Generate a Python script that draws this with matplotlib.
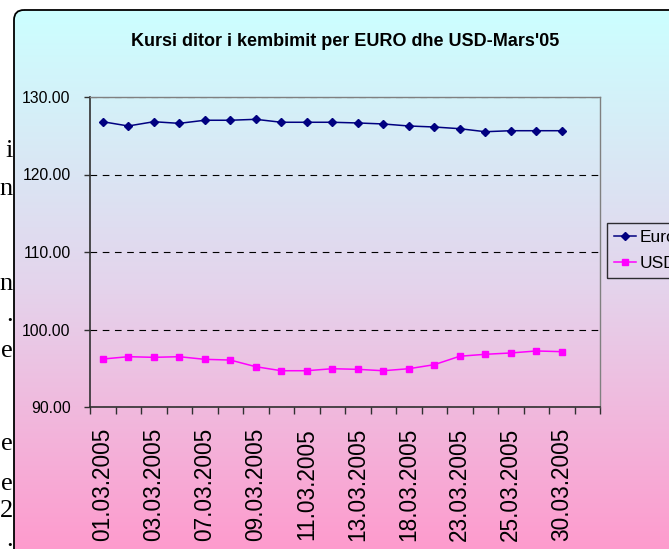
import numpy as np
import matplotlib
matplotlib.use("Agg")
import matplotlib.pyplot as plt
from matplotlib.patches import FancyBboxPatch
from matplotlib.colors import LinearSegmentedColormap
from matplotlib.ticker import FormatStrFormatter

# Categories (20 slots on the axis, last one empty)
dates = ["01.03.2005", "02.03.2005", "03.03.2005", "04.03.2005", "07.03.2005",
         "08.03.2005", "09.03.2005", "10.03.2005", "11.03.2005", "12.03.2005",
         "13.03.2005", "16.03.2005", "18.03.2005", "22.03.2005", "23.03.2005",
         "24.03.2005", "25.03.2005", "29.03.2005", "30.03.2005", "31.03.2005"]

euro = [126.81, 126.26, 126.81, 126.60, 127.00, 127.00, 127.12, 126.74, 126.74, 126.74,
        126.65, 126.52, 126.26, 126.13, 125.91, 125.52, 125.65, 125.65, 125.65]
usd = [96.19, 96.49, 96.41, 96.49, 96.15, 96.06, 95.20, 94.68, 94.68, 94.94,
       94.86, 94.68, 94.94, 95.46, 96.55, 96.80, 96.97, 97.23, 97.14]

title = "Kursi ditor i kembimit per EURO dhe USD-Mars'05"

# word endings of the surrounding document, cut off at the left edge
side_text = ["i", "n", "n", ".", "e", "e", "e", "2", "."]
side_y = [157, 195, 290, 321, 357, 450, 490, 517, 546]

W, H = 669, 549
fig = plt.figure(figsize=(W / 100, H / 100), dpi=100)
fig.patch.set_facecolor("white")

# --- background in pixel coordinates ---
bg = fig.add_axes([0, 0, 1, 1])
bg.set_xlim(0, W)
bg.set_ylim(H, 0)
bg.axis("off")

frame = FancyBboxPatch((14, 10), 720, 620, boxstyle="round,pad=0,rounding_size=10",
                       facecolor="none", edgecolor="black", linewidth=1.3, zorder=3)
bg.add_patch(frame)
cmap = LinearSegmentedColormap.from_list("bgfill", ["#CCFFFF", "#E4D4EC", "#FF99CC"])
grad = np.linspace(0, 1, 256).reshape(-1, 1)
img = bg.imshow(grad, cmap=cmap, extent=[14, 734, 560, 10], aspect="auto", zorder=1)
img.set_clip_path(frame)

for t, y in zip(side_text, side_y):
    bg.text(13, y, t, ha="right", va="baseline", fontsize=19,
            family="Liberation Serif", color="black")

fig.text(345 / W, 1 - 42 / H, title, ha="center", va="center",
         fontsize=13, fontweight="bold", family="Liberation Sans")

# --- plot area ---
ax = fig.add_axes([90 / W, 1 - 407 / H, 510 / W, 310 / H])
ax.set_facecolor("none")

x = np.arange(len(euro))
ax.plot(x, euro, color="#000080", linewidth=1.1, marker="D", markersize=3.8,
        label="Euro", zorder=4)
ax.plot(x, usd, color="#FF00FF", linewidth=1.1, marker="s", markersize=4.4,
        label="USD", zorder=4)

ax.set_xlim(-0.5, len(dates) - 0.5)
ax.set_ylim(90, 130)
ax.set_yticks([90, 100, 110, 120, 130])
ax.yaxis.set_major_formatter(FormatStrFormatter("%.2f"))
ax.grid(axis="y", color="black", linestyle=(0, (6, 5)), linewidth=0.8)
ax.set_axisbelow(True)

# labels on every other category, tick marks between categories
ax.set_xticks(x[::2])
ax.set_xticklabels(dates[::2][:len(x[::2])], rotation=90)
ax.set_xticks(np.arange(-0.5, len(dates)), minor=True)
ax.tick_params(axis="x", which="major", length=0, pad=15, labelsize=16.3)
ax.tick_params(axis="x", which="minor", length=5, width=1, color="#303030")
ax.tick_params(axis="y", length=4, width=1, color="#303030", pad=10, labelsize=11.3)
for lbl in ax.get_xticklabels() + ax.get_yticklabels():
    lbl.set_family("Liberation Sans")

for side in ["left", "bottom"]:
    ax.spines[side].set_color("#303030")
    ax.spines[side].set_linewidth(1.2)
for side in ["top", "right"]:
    ax.spines[side].set_color("#808080")
    ax.spines[side].set_linewidth(1.0)

leg = fig.legend(loc="upper left", bbox_to_anchor=(607 / W, 1 - 223 / H),
                 frameon=True, fancybox=False, handlelength=1.25, handletextpad=0.25,
                 borderpad=0.4, labelspacing=0.6, borderaxespad=0,
                 prop={"family": "Liberation Sans", "size": 12.5})
leg.get_frame().set_edgecolor("black")
leg.get_frame().set_facecolor("none")
leg.get_frame().set_linewidth(1.0)

plt.savefig("out.png", dpi=100)
